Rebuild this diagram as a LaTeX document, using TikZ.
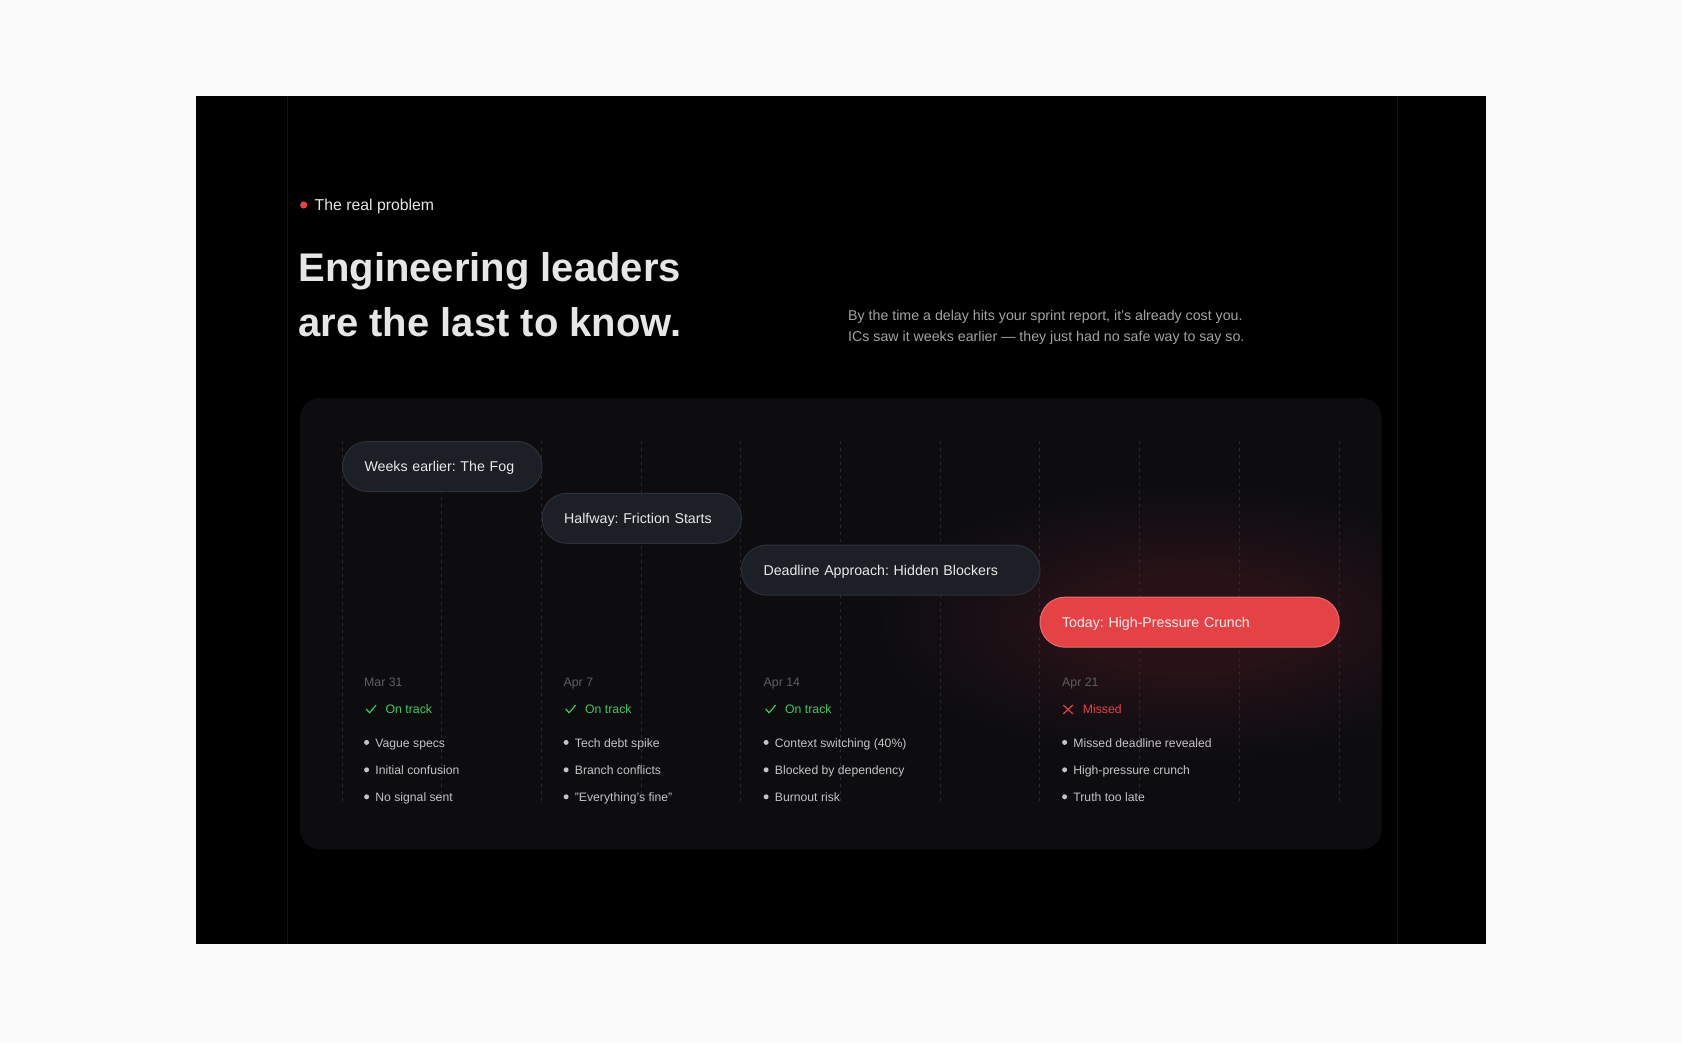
\documentclass[tikz,border=0pt]{standalone}
\usepackage{fontspec}
\setmainfont{Liberation Sans}
\frenchspacing
\definecolor{pagebg}{HTML}{FAFAFA}
\definecolor{panelbg}{HTML}{000000}
\definecolor{panelline}{HTML}{131313}
\definecolor{cardbg}{HTML}{0D0D10}
\definecolor{gridc}{HTML}{2C292E}
\definecolor{pillbg}{HTML}{1C1F26}
\definecolor{pillline}{HTML}{2C303A}
\definecolor{pilltext}{HTML}{E8E8E8}
\definecolor{redc}{HTML}{E54246}
\definecolor{redline}{HTML}{EC6A6D}
\definecolor{redtext}{HTML}{FBECEC}
\definecolor{headc}{HTML}{E6E6E6}
\definecolor{subc}{HTML}{A3A3A3}
\definecolor{datec}{HTML}{5E5E63}
\definecolor{greenc}{HTML}{3EC95C}
\definecolor{itemc}{HTML}{C4C4C4}
\definecolor{glowc}{HTML}{271217}
\definecolor{glowmid}{HTML}{190F14}
\pgfdeclareradialshading{redglow}{\pgfpointorigin}{color(0bp)=(glowc);color(9bp)=(glowc);color(17bp)=(glowmid);color(25bp)=(cardbg);color(50bp)=(cardbg)}
\begin{document}
\begin{tikzpicture}[x=1pt,y=-1pt,
  pill/.style={draw=pillline, fill=pillbg, line width=1pt, rounded corners=24.9pt,
    minimum height=50pt, anchor=north west, inner xsep=22pt, inner ysep=0pt,
    text=pilltext, font=\fontsize{14.2}{17}\selectfont, text height=10.2pt,
    text depth=0pt, align=left},
  redpill/.style={pill, draw=redline, fill=redc, text=redtext},
  gridline/.style={draw=gridc, line width=1pt, dash pattern=on 3pt off 4pt},
  datefont/.style={anchor=base west, inner sep=0pt, text=datec, font=\fontsize{12.3}{15}\selectfont},
  statfont/.style={anchor=base west, inner sep=0pt, text=greenc, font=\fontsize{12.3}{15}\selectfont},
  itemfont/.style={anchor=base west, inner sep=0pt, text=itemc, font=\fontsize{12.2}{15}\selectfont},
  checkmark/.style={draw=greenc, line width=1.2pt, line cap=round, line join=round},
  crossmark/.style={draw=redc, line width=1.2pt, line cap=round}
]
\useasboundingbox (0,0) rectangle (1682,1042);
\fill[pagebg] (0,0) rectangle (1682,1042);
% dark panel
\fill[panelbg] (196,96) rectangle (1486,944);
\draw[panelline, line width=1pt] (287,96) -- (287,944);
\draw[panelline, line width=1pt] (1397,96) -- (1397,944);

% eyebrow
\fill[redc] (303.7,205) circle (3.6);
\node[anchor=base west, inner sep=0pt, text=headc, font=\fontsize{15.8}{19}\selectfont] (eyebrow) at (314.5,210.7) {The real problem};

% headline
\node[anchor=base west, inner sep=0pt, text=headc, font=\fontsize{40}{55}\selectfont\bfseries] (head1) at (298.3,281.5) {Engineering leaders};
\node[anchor=base west, inner sep=0pt, text=headc, font=\fontsize{40}{55}\selectfont\bfseries] (head2) at (298.3,336.5) {are the last to know.};

% subtitle
\node[anchor=base west, inner sep=0pt, text=subc, font=\fontsize{14.2}{21}\selectfont] (sub1) at (848,320.5) {By the time a delay hits your sprint report, it's already cost you.};
\node[anchor=base west, inner sep=0pt, text=subc, font=\fontsize{14.2}{21}\selectfont] (sub2) at (848,341.5) {ICs saw it weeks earlier — they just had no safe way to say so.};

% card
\fill[cardbg, rounded corners=20pt] (300,398) rectangle (1381.7,849.3);
\begin{scope}
  \clip[rounded corners=20pt] (300,398) rectangle (1381.7,849.3);
  \shade[shading=redglow] (1189,622) ellipse [x radius=310, y radius=135];
\end{scope}

% grid lines
\foreach \i in {0,...,10}{
  \draw[gridline] ({342+99.7*\i},441) -- ({342+99.7*\i},805);
}

% pills
\node[pill, text width=155.6pt] (p1) at (342,441) {Weeks earlier: The Fog};
\node[pill, text width=155.4pt] (p2) at (541.6,492.8) {Halfway: Friction Starts};
\node[pill, text width=254.5pt] (p3) at (741,544.6) {Deadline Approach: Hidden Blockers};
\node[redpill, text width=255.2pt] (p4) at (1039.5,596.7) {Today: High-Pressure Crunch};

% columns 1-3
\foreach \x/\d/\a/\b/\c [count=\i] in {364/Mar 31/Vague specs/Initial confusion/No signal sent,
    563.5/Apr 7/Tech debt spike/Branch conflicts/"Everything's fine",
    763.5/Apr 14/Context switching (40\%)/Blocked by dependency/Burnout risk}{
  \node[datefont] (date\i) at (\x,686) {\d};
  \draw[checkmark] ({\x+2.2},709) -- ({\x+5.6},712.8) -- ({\x+12},705.2);
  \node[statfont] (stat\i) at ({\x+21.4},713.2) {On track};
  \fill[itemc] ({\x+2.6},742.4) circle (2.5);
  \fill[itemc] ({\x+2.6},769.8) circle (2.5);
  \fill[itemc] ({\x+2.6},796.8) circle (2.5);
  \node[itemfont] (ia\i) at ({\x+11.2},747) {\a};
  \node[itemfont] (ib\i) at ({\x+11.2},774.3) {\b};
  \node[itemfont] (ic\i) at ({\x+11.2},801.2) {\c};
}

% column 4
\node[datefont] (date4) at (1062,686) {Apr 21};
\draw[crossmark] (1063.6,705.3) -- (1072.6,713.6);
\draw[crossmark] (1063.6,713.6) -- (1072.6,705.3);
\node[statfont, text=redc] (stat4) at (1082.6,713.2) {Missed};
\fill[itemc] (1064.6,742.4) circle (2.5);
\fill[itemc] (1064.6,769.8) circle (2.5);
\fill[itemc] (1064.6,796.8) circle (2.5);
\node[itemfont] (ia4) at (1073.2,747) {Missed deadline revealed};
\node[itemfont] (ib4) at (1073.2,774.3) {High-pressure crunch};
\node[itemfont] (ic4) at (1073.2,801.2) {Truth too late};
\end{tikzpicture}
\end{document}
